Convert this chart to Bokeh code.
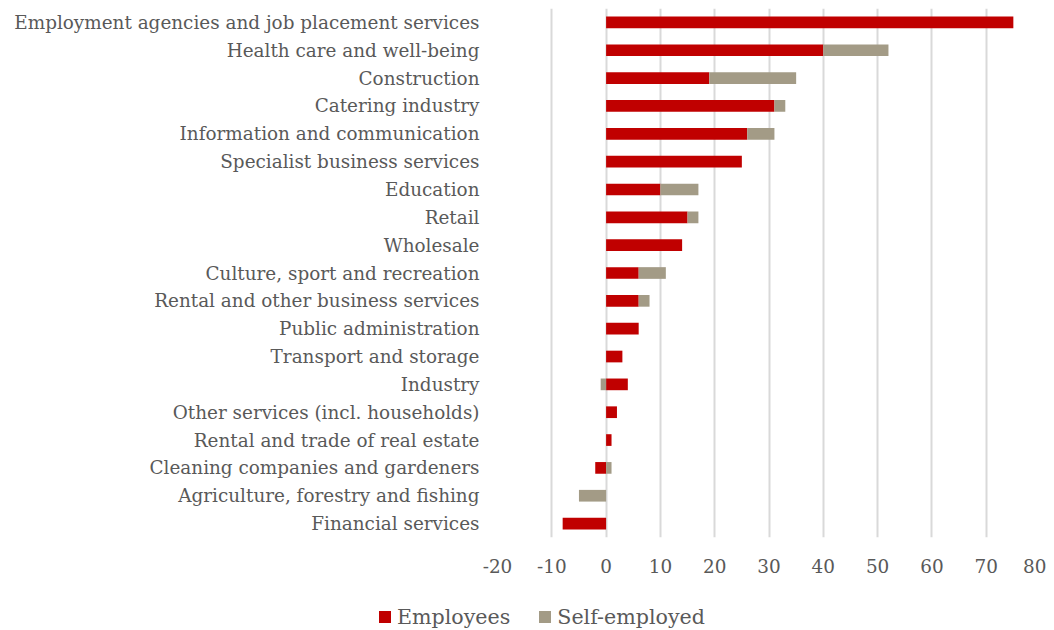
import numpy as np
from bokeh.plotting import figure
from bokeh.layouts import column
from bokeh.models import (ColumnDataSource, FactorRange, Range1d, Div,
                          FixedTicker, PrintfTickFormatter)
from bokeh.embed import file_html
from bokeh.resources import INLINE

categories = [
    "Employment agencies and job placement services",
    "Health care and well-being",
    "Construction",
    "Catering industry",
    "Information and communication",
    "Specialist business services",
    "Education",
    "Retail",
    "Wholesale",
    "Culture, sport and recreation",
    "Rental and other business services",
    "Public administration",
    "Transport and storage",
    "Industry",
    "Other services (incl. households)",
    "Rental and trade of real estate",
    "Cleaning companies and gardeners",
    "Agriculture, forestry and fishing",
    "Financial services",
]
employees = [75, 40, 19, 31, 26, 25, 10, 15, 14, 6, 6, 6, 3, 4, 2, 1, -2, 0, -8]
self_employed = [0, 12, 16, 2, 5, 0, 7, 2, 0, 5, 2, 0, 0, -1, 0, 0, 1, -5, 0]
x_ticks = [-20, -10, 0, 10, 20, 30, 40, 50, 60, 70, 80]
series_names = ["Employees", "Self-employed"]

RED = "#C00000"
TAUPE = "#A39B86"
TEXT = "#595959"
FONT = "DejaVu Serif"
FS = "18.4px"
LEG_FS = "20.6px"

emp = np.array(employees, dtype=float)
se = np.array(self_employed, dtype=float)
emp_left = np.minimum(emp, 0)
emp_right = np.maximum(emp, 0)
pos_base = np.maximum(emp, 0)
neg_base = np.minimum(emp, 0)
se_left = np.where(se >= 0, pos_base, neg_base + se)
se_right = np.where(se >= 0, pos_base + se, neg_base)

src = ColumnDataSource(dict(cat=categories, el=emp_left, er=emp_right, sl=se_left, sr=se_right))

p = figure(
    width=1046, height=600,
    y_range=FactorRange(*list(reversed(categories)), range_padding=0),
    x_range=Range1d(-20, 80),
    output_backend="svg", toolbar_location=None,
    min_border_left=497, min_border_right=6, min_border_top=8, min_border_bottom=63,
)
p.outline_line_color = None
p.background_fill_color = "white"
p.border_fill_color = "white"

p.hbar(y="cat", left="el", right="er", height=0.42, source=src, fill_color=RED, line_color=None)
p.hbar(y="cat", left="sl", right="sr", height=0.42, source=src, fill_color=TAUPE, line_color=None)

p.ygrid.grid_line_color = None
p.xgrid.grid_line_color = "#D9D9D9"
p.xgrid.grid_line_width = 2
p.xgrid.level = "underlay"

p.xaxis.ticker = FixedTicker(ticks=x_ticks)
p.xaxis.formatter = PrintfTickFormatter(format="%d")
for ax in (p.xaxis[0], p.yaxis[0]):
    ax.axis_line_color = None
    ax.major_tick_line_color = None
    ax.minor_tick_line_color = None
    ax.major_tick_out = 0
    ax.major_tick_in = 0
    ax.major_label_text_font = FONT
    ax.major_label_text_font_size = FS
    ax.major_label_text_color = TEXT
p.yaxis.major_label_standoff = 18
p.xaxis.major_label_standoff = 21

# legend row below the chart
def swatch(color, left_gap):
    return (f'<span style="display:inline-block;width:12px;height:12px;background:{color};'
            f'margin-left:{left_gap}px;margin-right:6px;"></span>')

legend_html = (
    f'<div style="display:flex;align-items:center;padding-left:379px;padding-top:6px;'
    f'font-family:\'{FONT}\';font-size:{LEG_FS};color:{TEXT};line-height:22px;white-space:nowrap;">'
    + swatch(RED, 0) + f'<span>{series_names[0]}</span>'
    + swatch(TAUPE, 29) + f'<span>{series_names[1]}</span>'
    + '</div>'
)
legend_div = Div(text=legend_html, width=1046, height=30, margin=0)

layout = column(p, legend_div, spacing=0)
open("out.html", "w").write(file_html(layout, INLINE))
